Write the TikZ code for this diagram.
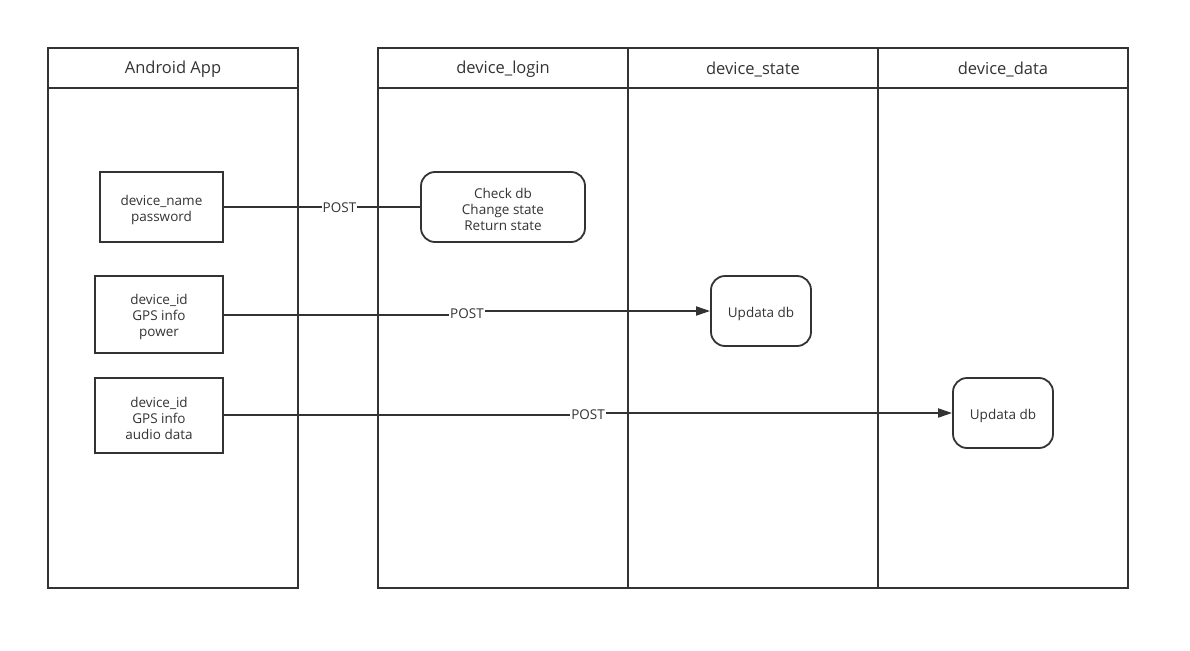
\documentclass[tikz,border=0pt]{standalone}
\usepackage{fontspec}
\setmainfont{Open Sans}
\usetikzlibrary{arrows.meta}
\definecolor{ink}{HTML}{333333}
\begin{document}
\begin{tikzpicture}[x=1pt,y=-1pt,
  lane/.style={draw=ink,line width=1.8pt},
  lanetitle/.style={font=\fontsize{16.5}{20}\selectfont,text=ink},
  txt/.style={align=center,inner sep=0pt,font=\fontsize{13.5}{16}\selectfont,text=ink,yshift=-2.5pt},
  sqbox/.style={draw=ink,line width=1.8pt,inner sep=0pt},
  rbox/.style={sqbox,rounded corners=14pt},
  postlbl/.style={font=\fontsize{13.5}{15}\selectfont,text=ink,inner sep=1pt},
  conn/.style={draw=ink,line width=1.8pt},
  arr/.style={conn,-{Triangle[length=14pt,width=9pt]}}]
\useasboundingbox (0,0) rectangle (1190,650);
% swimlanes
\draw[lane] (48,48) rectangle (298,588);
\draw[lane] (48,88) -- (298,88);
\node[lanetitle] (tA) at (173,69.5) {Android App};
\draw[lane] (378,48) rectangle (1128,588);
\draw[lane] (378,88) -- (1128,88);
\draw[lane] (628,48) -- (628,588);
\draw[lane] (878,48) -- (878,588);
\node[lanetitle] (tL) at (503,69.5) {device\_login};
\node[lanetitle] (tS) at (753,69.5) {device\_state};
\node[lanetitle] (tD) at (1003,69.5) {device\_data};
% boxes
\node[sqbox,minimum width=123pt,minimum height=70pt,label={[txt]center:{device\_name\\password}}] (b1) at (161.5,207) {};
\node[rbox,minimum width=164pt,minimum height=70pt,label={[txt]center:{Check db\\Change state\\Return state}}] (chk) at (503,207) {};
\node[sqbox,minimum width=128pt,minimum height=77pt,label={[txt]center:{device\_id\\GPS info\\power}}] (b2) at (159,314.5) {};
\node[rbox,minimum width=100pt,minimum height=70pt,label={[txt]center:{Updata db}}] (u1) at (761,311) {};
\node[sqbox,minimum width=128pt,minimum height=75pt,label={[txt]center:{device\_id\\GPS info\\audio data}}] (b3) at (159,415.5) {};
\node[rbox,minimum width=100pt,minimum height=70pt,label={[txt]center:{Updata db}}] (u2) at (1003,413) {};
% labels
\node[postlbl] (p1) at (339.5,208) {POST};
\node[postlbl] (p2) at (467,314) {POST};
\node[postlbl] (p3) at (588,415) {POST};
% connectors
\coordinate (s2) at ([yshift=-0.5pt]b2.east);
\coordinate (s3) at ([yshift=0.5pt]b3.east);
\draw[conn] (b1.east) -- (b1.east -| p1.west);
\draw[conn] (b1.east -| p1.east) -- (chk.west);
\draw[conn] (s2) -- (s2 -| p2.west);
\draw[arr] (p2.east |- u1.west) -- (u1.west);
\draw[conn] (s3) -- (s3 -| p3.west);
\draw[arr] (p3.east |- u2.west) -- (u2.west);
\end{tikzpicture}
\end{document}
